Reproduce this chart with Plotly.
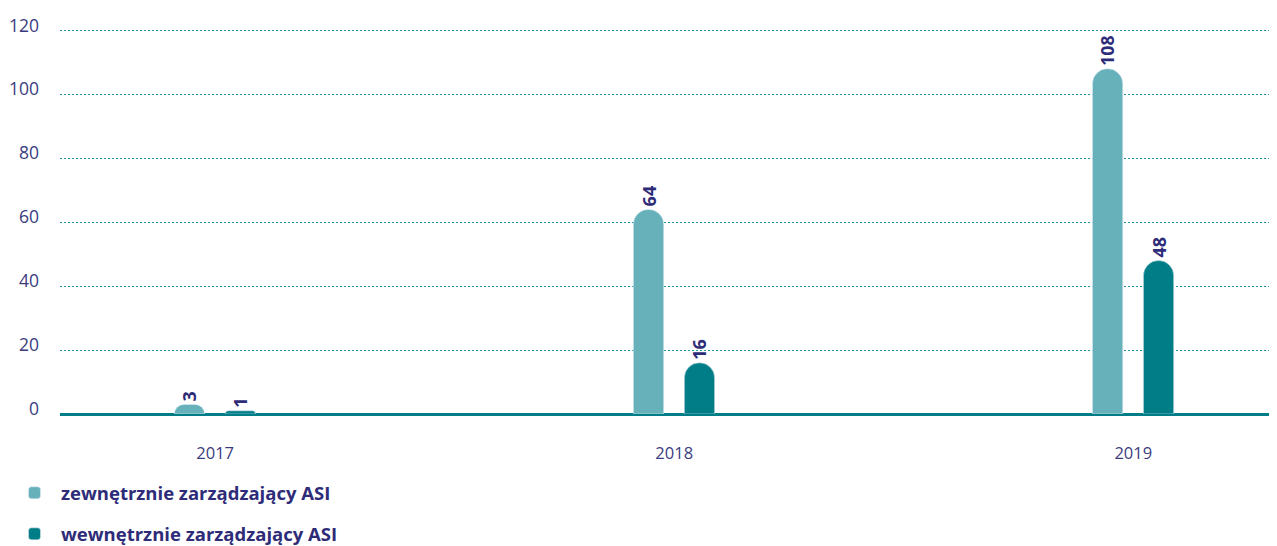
import plotly.graph_objects as go

# dane
lata = ['2017', '2018', '2019']
zewnetrzne = [3, 64, 108]
wewnetrzne = [1, 16, 48]
y_ticks = [0, 20, 40, 60, 80, 100, 120]

FONT = 'Open Sans, Noto Sans, sans-serif'
NAVY = '#2e2c78'
JASNY = '#67b1bb'
CIEMNY = '#007d86'

fig = go.Figure()

fig.add_trace(go.Bar(
    x=lata, y=zewnetrzne, name='zewnętrznie zarządzający ASI',
    marker=dict(color=JASNY, cornerradius=15),
    width=0.066, offset=-0.089,
    text=zewnetrzne, textposition='outside', textangle=-90,
    textfont=dict(family=FONT, size=18, color=NAVY, weight='bold'),
    cliponaxis=False, legendgroup='a',
))
fig.add_trace(go.Bar(
    x=lata, y=wewnetrzne, name='wewnętrznie zarządzający ASI',
    marker=dict(color=CIEMNY, cornerradius=15),
    width=0.066, offset=0.022,
    text=wewnetrzne, textposition='outside', textangle=-90,
    textfont=dict(family=FONT, size=18, color=NAVY, weight='bold'),
    cliponaxis=False, legendgroup='b',
))

fig.update_layout(
    width=1277, height=546,
    margin=dict(l=52, r=8, t=16, b=140, autoexpand=False),
    paper_bgcolor='white', plot_bgcolor='white',
    font=dict(family=FONT, color=NAVY),
    showlegend=True,
    legend=dict(
        orientation='v', xref='container', yref='container',
        x=0, y=0.146, xanchor='left', yanchor='top',
        font=dict(family=FONT, size=18.5, color=NAVY, weight='bold'),
        tracegroupgap=14, itemwidth=43,
    ),
    xaxis=dict(
        type='category', range=[-0.338, 2.313],
        showgrid=False, showline=False, ticks='',
        tickfont=dict(size=16.5, color='#3b3b80'),
        ticklabelstandoff=27,
    ),
    yaxis=dict(
        range=[0, 122], tickvals=y_ticks,
        showgrid=True, gridcolor='#1a9aa0', griddash='1.5px,2.5px', gridwidth=1.2,
        zeroline=True, zerolinecolor=CIEMNY, zerolinewidth=3,
        tickfont=dict(size=17.5, color='#3b3b80'),
        ticklabelstandoff=20, ticklabelshift=-5,
    ),
)

fig.write_html('out.html')
